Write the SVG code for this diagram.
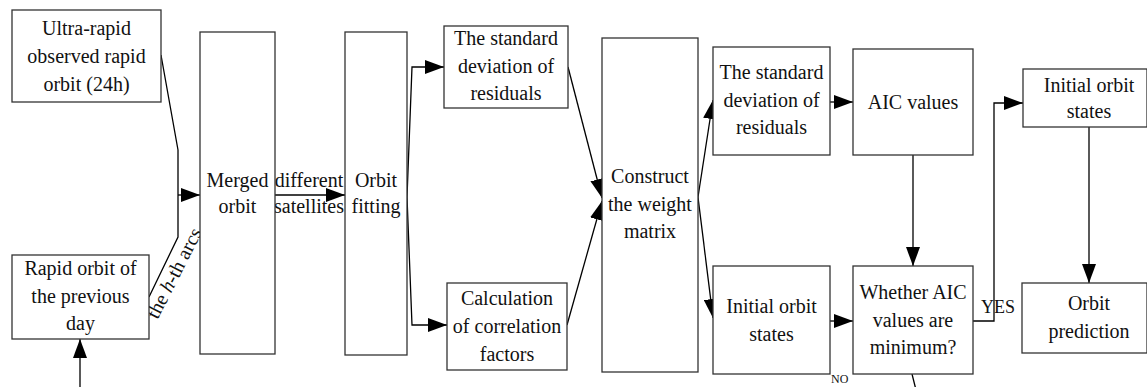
<svg xmlns="http://www.w3.org/2000/svg" width="1147" height="387" viewBox="0 0 1147 387">
<defs>
<marker id="ah" markerUnits="userSpaceOnUse" markerWidth="20" markerHeight="14" refX="19" refY="7" orient="auto">
<path d="M0,0 L19,7 L0,14 z" fill="#000"/>
</marker>
<style>
.box{fill:#fff;stroke:#333;stroke-width:1.3}
.t{font-family:"Liberation Serif","Times New Roman",serif;font-size:20px;fill:#111;text-anchor:middle}
.c{fill:none;stroke:#000;stroke-width:1.3}
.a{fill:none;stroke:#000;stroke-width:1.3;marker-end:url(#ah)}
</style>
</defs>
<rect width="1147" height="387" fill="#fff"/>

<g id="connectors">
<polyline class="c" points="161,55 178,150 178,237 149,297"/>
<line class="a" x1="178" y1="195" x2="200" y2="195"/>
<line class="a" x1="80" y1="390" x2="80" y2="339"/>
<line class="a" x1="275" y1="195" x2="345" y2="195"/>
<polyline class="a" points="407,197 412,67 444,67"/>
<polyline class="a" points="407,197 412,325 447,325"/>
<line class="a" x1="568" y1="67" x2="602" y2="198"/>
<line class="a" x1="567" y1="325" x2="602" y2="201"/>
<line class="a" x1="698" y1="197" x2="713" y2="100"/>
<line class="a" x1="698" y1="197" x2="713" y2="318"/>
<line class="a" x1="830" y1="102" x2="853" y2="102"/>
<line class="a" x1="830" y1="321" x2="853" y2="321"/>
<line class="a" x1="913" y1="155" x2="913" y2="266"/>
<polyline class="a" points="973,321 994,321 994,103 1023,103"/>
<line class="a" x1="1089" y1="127" x2="1089" y2="283"/>
<line class="c" x1="912" y1="374" x2="916" y2="390"/>
<text class="t" x="309" y="187">different</text>
<text class="t" x="309" y="213">satellites</text>
<text class="t" transform="translate(180,276) rotate(-63)">the <tspan font-style="italic">h</tspan>-th arcs</text>
<text class="t" x="981" y="313" style="text-anchor:start;font-size:18px">YES</text>
<text class="t" x="831" y="383" style="text-anchor:start;font-size:12px">NO</text>
</g>

<g id="ultra">
<rect class="box" x="12" y="10" width="149" height="92"/>
<text class="t" x="86.5" y="35">Ultra-rapid<tspan x="86.5" y="63">observed rapid</tspan><tspan x="86.5" y="91">orbit (24h)</tspan></text>
</g>
<g id="rapid">
<rect class="box" x="12" y="255" width="137" height="84"/>
<text class="t" x="80.5" y="275">Rapid orbit of<tspan x="80.5" y="303">the previous</tspan><tspan x="80.5" y="330">day</tspan></text>
</g>
<g id="merged">
<rect class="box" x="200" y="32" width="75" height="322"/>
<text class="t" x="237.5" y="187">Merged<tspan x="237.5" y="213">orbit</tspan></text>
</g>
<g id="fitting">
<rect class="box" x="345" y="32" width="62" height="323"/>
<text class="t" x="376" y="187">Orbit<tspan x="376" y="213">fitting</tspan></text>
</g>
<g id="std1">
<rect class="box" x="444" y="26" width="124" height="82"/>
<text class="t" x="506" y="45">The standard<tspan x="506" y="73">deviation of</tspan><tspan x="506" y="100">residuals</tspan></text>
</g>
<g id="calc">
<rect class="box" x="447" y="283" width="120" height="87"/>
<text class="t" x="507" y="305">Calculation<tspan x="507" y="333">of correlation</tspan><tspan x="507" y="361">factors</tspan></text>
</g>
<g id="construct">
<rect class="box" x="602" y="38" width="96" height="334"/>
<text class="t" x="650" y="183">Construct<tspan x="650" y="211">the weight</tspan><tspan x="650" y="238">matrix</tspan></text>
</g>
<g id="std2">
<rect class="box" x="713" y="47" width="117" height="108"/>
<text class="t" x="771.5" y="79">The standard<tspan x="771.5" y="107">deviation of</tspan><tspan x="771.5" y="134">residuals</tspan></text>
</g>
<g id="aic">
<rect class="box" x="853" y="49" width="120" height="106"/>
<text class="t" x="913" y="109">AIC values</text>
</g>
<g id="init1">
<rect class="box" x="713" y="266" width="117" height="108"/>
<text class="t" x="771.5" y="313">Initial orbit<tspan x="771.5" y="341">states</tspan></text>
</g>
<g id="whether">
<rect class="box" x="853" y="266" width="120" height="108"/>
<text class="t" x="913" y="299">Whether AIC<tspan x="913" y="327">values are</tspan><tspan x="913" y="354">minimum?</tspan></text>
</g>
<g id="init2">
<rect class="box" x="1023" y="69" width="124" height="58"/>
<text class="t" x="1089" y="92">Initial orbit<tspan x="1089" y="118">states</tspan></text>
</g>
<g id="predict">
<rect class="box" x="1022" y="283" width="125" height="70"/>
<text class="t" x="1089" y="310">Orbit<tspan x="1089" y="338">prediction</tspan></text>
</g>
</svg>
